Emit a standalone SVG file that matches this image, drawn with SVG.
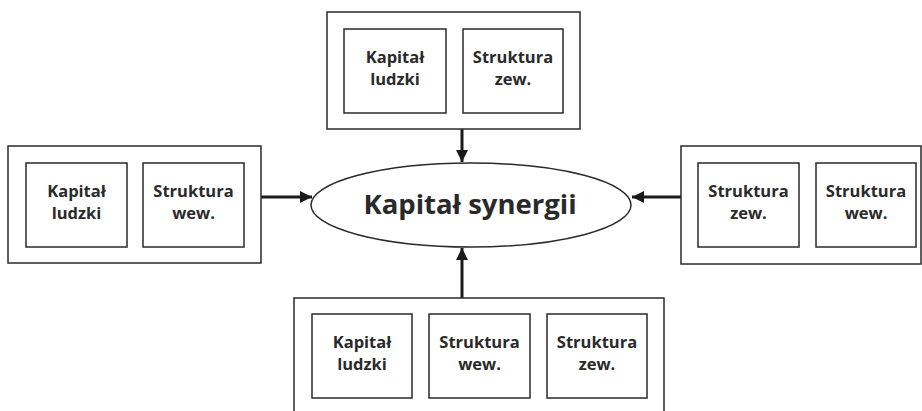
<svg xmlns="http://www.w3.org/2000/svg" width="922" height="411" viewBox="0 0 922 411">
<style>
rect{fill:#fff;stroke:#2a2a2a;stroke-width:1.5}
text{font-family:"Open Sans","Noto Sans",sans-serif;font-weight:700;fill:#2a2a2a;text-anchor:middle}
.s{font-size:16.5px}
.t{font-size:27.5px}
.c{stroke:#1a1a1a;stroke-width:3;fill:none}
</style>
<defs>
<marker id="ah" viewBox="0 0 12 12" refX="12" refY="6" markerWidth="12" markerHeight="12" markerUnits="userSpaceOnUse" orient="auto">
<path d="M0,0 L12,6 L0,12 Z" fill="#1a1a1a"/>
</marker>
</defs>
<g id="connectors">
<line class="c" x1="462" y1="129" x2="462" y2="162" marker-end="url(#ah)"/>
<line class="c" x1="261" y1="197" x2="312" y2="197" marker-end="url(#ah)"/>
<line class="c" x1="681" y1="197" x2="632" y2="197" marker-end="url(#ah)"/>
<line class="c" x1="462" y1="298" x2="462" y2="248" marker-end="url(#ah)"/>
</g>
<g id="center">
<ellipse cx="471" cy="205" rx="160" ry="42" fill="#fff" stroke="#2a2a2a" stroke-width="1.5"/>
<text class="t" x="470" y="214">Kapitał synergii</text>
</g>
<g id="top">
<rect x="327" y="12" width="253" height="117"/>
<rect x="344" y="29" width="102" height="84"/>
<text class="s" x="395" y="63">Kapitał</text>
<text class="s" x="395" y="85">ludzki</text>
<rect x="463" y="29" width="100" height="84"/>
<text class="s" x="513" y="63">Struktura</text>
<text class="s" x="513" y="85">zew.</text>
</g>
<g id="left">
<rect x="8" y="146" width="253" height="117"/>
<rect x="26" y="163" width="101" height="84"/>
<text class="s" x="76.5" y="197">Kapitał</text>
<text class="s" x="76.5" y="219">ludzki</text>
<rect x="143" y="163" width="101" height="84"/>
<text class="s" x="193.5" y="197">Struktura</text>
<text class="s" x="193.5" y="219">wew.</text>
</g>
<g id="right">
<rect x="681" y="146" width="240" height="118"/>
<rect x="698" y="163" width="101" height="84"/>
<text class="s" x="748.5" y="197">Struktura</text>
<text class="s" x="748.5" y="219">zew.</text>
<rect x="816" y="163" width="100" height="84"/>
<text class="s" x="866" y="197">Struktura</text>
<text class="s" x="866" y="219">wew.</text>
</g>
<g id="bottom">
<path d="M294,411 V298 H664 V411" fill="none" stroke="#2a2a2a" stroke-width="1.5"/>
<rect x="312" y="314" width="100" height="84"/>
<text class="s" x="362" y="348">Kapitał</text>
<text class="s" x="362" y="370">ludzki</text>
<rect x="429" y="314" width="101" height="84"/>
<text class="s" x="479.5" y="348">Struktura</text>
<text class="s" x="479.5" y="370">wew.</text>
<rect x="547" y="314" width="100" height="84"/>
<text class="s" x="597" y="348">Struktura</text>
<text class="s" x="597" y="370">zew.</text>
</g>
</svg>
